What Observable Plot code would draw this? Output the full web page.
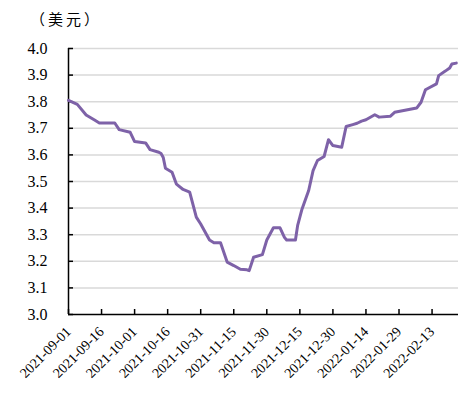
<!DOCTYPE html>
<html>
<head>
<meta charset="utf-8">
<script src="https://cdn.jsdelivr.net/npm/d3@7"></script>
<script src="https://cdn.jsdelivr.net/npm/@observablehq/plot@0.6"></script>
<style>
  body { margin: 0; background: #fff; }
  #wrap { position: relative; width: 476px; height: 396px; }
  #unit { position: absolute; left: 30px; top: 8px; font-family: "Noto Sans CJK SC", sans-serif; font-size: 15px; letter-spacing: 3px; color: #000; z-index: 2; }
</style>
</head>
<body>
<div id="wrap"><div id="unit">（美元）</div></div>
<script>
const dates = [
  "2021-09-01","2021-09-05","2021-09-09","2021-09-13","2021-09-15","2021-09-22","2021-09-24","2021-09-29",
  "2021-10-01","2021-10-06","2021-10-08","2021-10-12","2021-10-13","2021-10-14","2021-10-15","2021-10-18",
  "2021-10-20","2021-10-23","2021-10-26","2021-10-29","2021-10-31","2021-11-04","2021-11-06","2021-11-09",
  "2021-11-12","2021-11-15","2021-11-18","2021-11-21","2021-11-22","2021-11-24","2021-11-28","2021-11-30",
  "2021-12-03","2021-12-06","2021-12-08","2021-12-09","2021-12-13","2021-12-14","2021-12-16","2021-12-19",
  "2021-12-21","2021-12-23","2021-12-26","2021-12-28","2021-12-30","2022-01-03","2022-01-05","2022-01-08",
  "2022-01-10","2022-01-12","2022-01-14","2022-01-18","2022-01-20","2022-01-25","2022-01-27","2022-02-06",
  "2022-02-08","2022-02-10","2022-02-15","2022-02-16","2022-02-19","2022-02-21","2022-02-22","2022-02-24"
];
const values = [
  3.805,3.79,3.75,3.73,3.72,3.72,3.695,3.685,
  3.65,3.645,3.62,3.61,3.605,3.59,3.55,3.535,
  3.49,3.47,3.46,3.366,3.34,3.28,3.27,3.27,
  3.197,3.184,3.17,3.168,3.165,3.215,3.225,3.28,
  3.326,3.326,3.29,3.28,3.28,3.335,3.397,3.466,
  3.541,3.579,3.594,3.657,3.635,3.629,3.707,3.714,
  3.719,3.727,3.732,3.751,3.742,3.745,3.76,3.776,
  3.798,3.845,3.867,3.898,3.915,3.927,3.942,3.945
];
const xTickLabels = ["2021-09-01","2021-09-16","2021-10-01","2021-10-16","2021-10-31","2021-11-15",
  "2021-11-30","2021-12-15","2021-12-30","2022-01-14","2022-01-29","2022-02-13"];
const yTicks = [3.0,3.1,3.2,3.3,3.4,3.5,3.6,3.7,3.8,3.9,4.0];
const xStart = "2021-09-01";
const xEnd = "2022-02-25";

const data = dates.map((d, i) => ({date: new Date(d), value: values[i]}));
const xTicks = xTickLabels.map(d => new Date(d));
const fmt = d3.utcFormat("%Y-%m-%d");
const serif = "'Liberation Serif', 'Times New Roman', serif";

const chart = Plot.plot({
  width: 476,
  height: 396,
  marginLeft: 68,
  marginRight: 18,
  marginTop: 48,
  marginBottom: 82,
  style: {fontFamily: serif, background: "transparent", overflow: "visible"},
  x: {type: "utc", domain: [new Date(xStart), new Date(xEnd)], label: null},
  y: {domain: [3.0, 4.0], label: null},
  marks: [
    Plot.ruleY(yTicks.slice(1), {stroke: "#d9d9d9", strokeWidth: 1.5}),
    Plot.axisY({ticks: yTicks, tickFormat: d => d.toFixed(1), tickSize: -5, tickPadding: 26, label: null,
      fontSize: 16, fill: "#000", stroke: "#000", strokeWidth: 1.5}),
    Plot.axisX({ticks: xTicks, tickFormat: fmt, tickSize: -5, tickPadding: 20, tickRotate: -45, label: null,
      fontSize: 14, fill: "#000", stroke: "#000", strokeWidth: 1.5}),
    Plot.ruleX([new Date(xStart)], {stroke: "#000", strokeWidth: 1.5}),
    Plot.ruleY([3.0], {stroke: "#000", strokeWidth: 1.5}),
    Plot.lineY(data, {x: "date", y: "value", stroke: "#7e62a8", strokeWidth: 3, strokeLinejoin: "round"})
  ]
});
document.getElementById("wrap").prepend(chart);
</script>
</body>
</html>
